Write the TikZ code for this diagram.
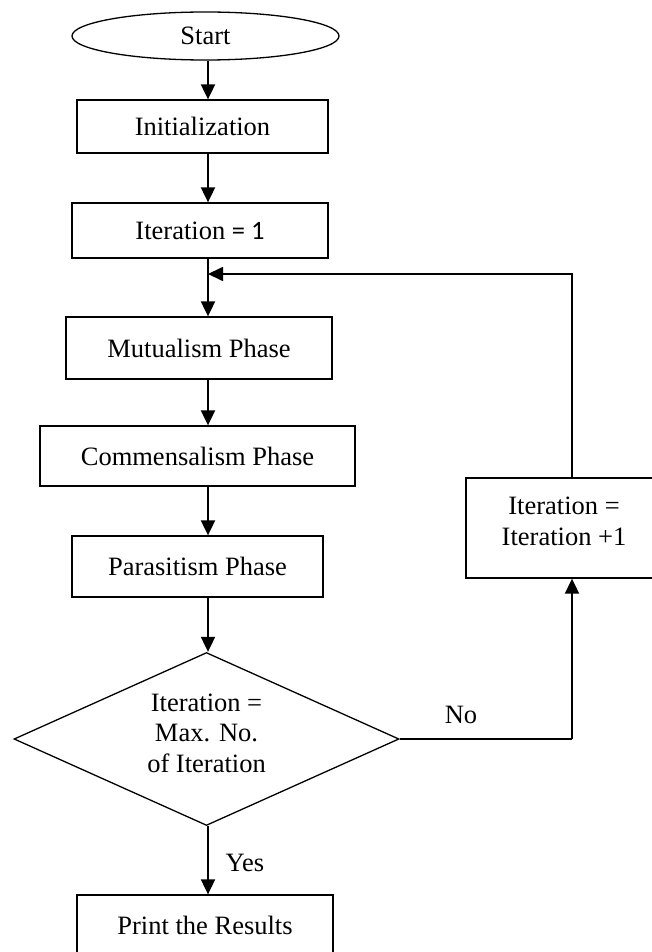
\documentclass[tikz,border=0pt]{standalone}
\usepackage{fontspec}
\setmainfont{Liberation Serif}
\newfontfamily\calib{Carlito}
\usetikzlibrary{shapes.geometric,arrows.meta}
\begin{document}
\begin{tikzpicture}[x=1pt,y=-1pt,
  every node/.style={font=\fontsize{26.5}{30.5}\selectfont, inner sep=0pt, align=center},
  box/.style={draw, line width=1.3pt, rectangle},
  arr/.style={line width=1.9pt, -{Triangle[length=15pt,width=14pt]}},
  thinln/.style={line width=1.1pt},
  midln/.style={line width=1.6pt}]
\useasboundingbox (0,0) rectangle (652,952);
\coordinate (axis) at (208,0);
\coordinate (fb) at (572,274);
\coordinate (join) at (208,274);

\node[draw, line width=1.3pt, ellipse, minimum width=267pt, minimum height=48pt] (start) at (205.5,36) {Start};
\node[box, minimum width=251pt, minimum height=53pt] (init) at (202.5,126.5) {Initialization};
\node[box, minimum width=256pt, minimum height=55pt] (iter1) at (200,230.5) {Iteration {\calib= 1}};
\node[box, minimum width=266pt, minimum height=62pt] (mut) at (199,348) {Mutualism Phase};
\node[box, minimum width=315pt, minimum height=60pt] (com) at (197.5,456) {Commensalism Phase};
\node[box, minimum width=251pt, minimum height=61pt] (par) at (197.5,566.5) {Parasitism Phase};
\node[draw, line width=1.3pt, diamond, aspect=2.225, minimum width=385pt, minimum height=173pt] (dec) at (206.5,739) {};
\node (dectxt) at (206.5,733) {Iteration =\\Max. No.\\of Iteration};
\node[box, minimum width=256pt, minimum height=60pt] (print) at (205,925) {Print the Results};
\node[box, minimum width=194pt, minimum height=100pt] (inc) at (563,528) {};
\node (inctxt) at (564,521.5) {Iteration =\\Iteration +1};

\node (no) at (461,715) {No};
\node (yes) at (245,863) {Yes};

\draw[arr] (start.south -| axis) -- (init.north -| axis);
\draw[arr] (init.south -| axis) -- (iter1.north -| axis);
\draw[arr] (iter1.south -| axis) -- (mut.north -| axis);
\draw[arr] (mut.south -| axis) -- (com.north -| axis);
\draw[arr] (com.south -| axis) -- (par.north -| axis);
\draw[arr] (par.south -| axis) -- (dec.north -| axis);
\draw[arr] (dec.south -| axis) -- (print.north -| axis);

\draw[midln] (dec.east) -- (dec.east -| fb);
\draw[arr] (dec.east -| fb) -- (inc.south -| fb);
\draw[thinln] (inc.north -| fb) -- (fb);
\draw[arr, line width=1.7pt] ([xshift=0.55pt]fb) -- (join);
\end{tikzpicture}
\end{document}
